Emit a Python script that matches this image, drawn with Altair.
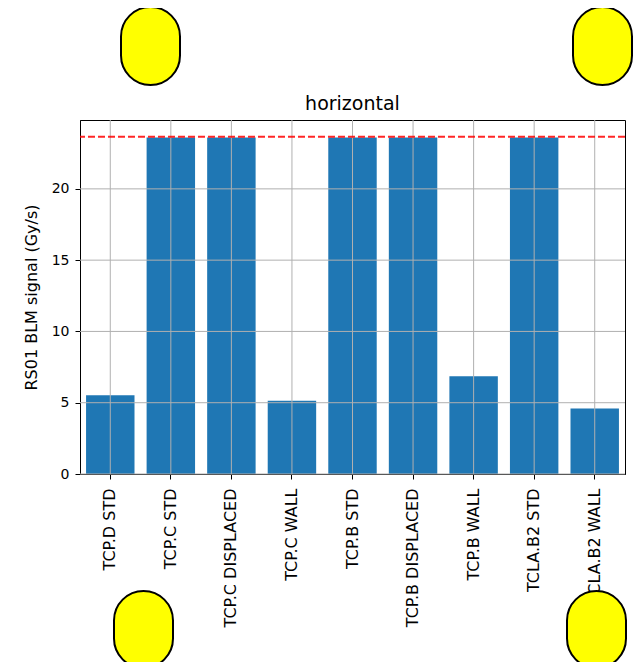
import altair as alt
import pandas as pd

# ---- data ----
categories = ["TCP.D STD", "TCP.C STD", "TCP.C DISPLACED", "TCP.C WALL",
              "TCP.B STD", "TCP.B DISPLACED", "TCP.B WALL", "TCLA.B2 STD", "TCLA.B2 WALL"]
values = [5.52, 23.6, 23.6, 5.14, 23.6, 23.6, 6.86, 23.6, 4.6]
threshold = [23.65]
y_ticks = [0, 5, 10, 15, 20]
y_max = 24.83
ytitle = "RS01 BLM signal (Gy/s)"

# decorative yellow badges (pixel boxes relative to plot origin): x1, x2, y1, y2
badges = [(41, 100, -113, -35), (493, 552, -113, -35),
          (34, 93, 471, 548), (487, 546, 471, 548)]

df = pd.DataFrame({"cat": categories, "value": values})
FONT = "DejaVu Sans"

x_scale = alt.Scale(paddingInner=0.2, paddingOuter=0.1)
y_scale = alt.Scale(domain=[0, y_max], nice=False)
y_axis = alt.Axis(values=y_ticks)

bars = alt.Chart(df).mark_bar(color="#1f77b4").encode(
    x=alt.X("cat:N", sort=None, scale=x_scale, title=None),
    y=alt.Y("value:Q", scale=y_scale, axis=y_axis, title=ytitle),
)

vgrid = alt.Chart(df).mark_rule(color="#b0b0b0", strokeWidth=1).encode(
    x=alt.X("cat:N", sort=None, title=None),
)

hgrid = alt.Chart(pd.DataFrame({"t": y_ticks})).mark_rule(color="#b0b0b0", strokeWidth=1).encode(
    y=alt.Y("t:Q", axis=y_axis, title=ytitle),
)

thr = alt.Chart(pd.DataFrame({"thr": threshold})).mark_rule(
    color="#ff0000", strokeDash=[7, 3], strokeWidth=2, opacity=0.85
).encode(
    y=alt.Y("thr:Q", axis=y_axis, title=ytitle),
)

layers = [bars, vgrid, hgrid, thr]
for (x1, x2, y1, y2) in badges:
    layers.append(
        alt.Chart(alt.Data(values=[{}])).mark_rect(
            fill="#ffff00", stroke="black", strokeWidth=2, cornerRadius=29.5
        ).encode(x=alt.value(x1), x2=alt.value(x2), y=alt.value(y1), y2=alt.value(y2))
    )

chart = alt.layer(*layers).properties(
    width=545,
    height=354,
    title=alt.Title("horizontal", fontSize=19, fontWeight="normal", font=FONT,
                    color="black", offset=0, dy=108),
    autosize=alt.AutoSizeParams(type="none"),
    padding={"left": 72, "top": 112, "right": 8, "bottom": 188},
).configure_view(
    stroke="black", strokeWidth=1
).configure_axis(
    labelFont=FONT, labelFontSize=16, labelColor="black",
    titleFont=FONT, titleFontSize=16, titleFontWeight="normal", titleColor="black",
    tickColor="black", domainColor="black", tickSize=5, grid=False,
).configure_axisX(
    labelAngle=270, labelPadding=9,
).configure_axisY(
    labelPadding=6, titlePadding=12, labelFontSize=14,
)

chart.save("out.html", embed_options={"renderer": "svg", "actions": False})
